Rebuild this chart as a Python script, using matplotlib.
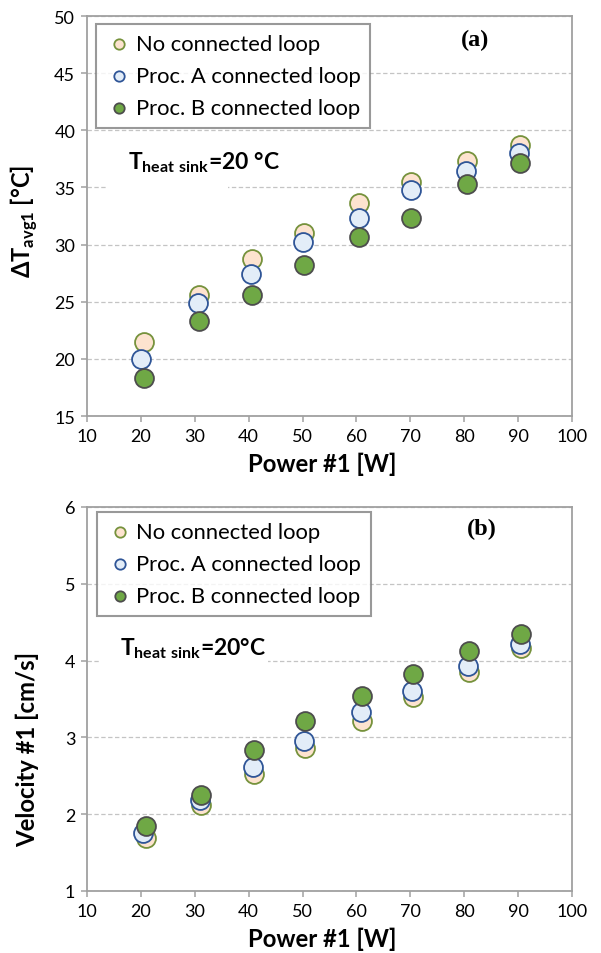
import matplotlib
matplotlib.use("Agg")
import matplotlib.pyplot as plt
from matplotlib.patches import Rectangle

plt.rcParams['font.family'] = ['Lato', 'DejaVu Sans']
plt.rcParams['mathtext.fontset'] = 'custom'
plt.rcParams['mathtext.rm'] = 'Lato'
plt.rcParams['mathtext.bf'] = 'Lato:bold'

# ---------------- data ----------------
series_labels = ["No connected loop", "Proc. A connected loop", "Proc. B connected loop"]

# panel (a): Delta T avg1 [°C] vs Power #1 [W]
a_x_none = [20.5, 30.7, 40.6, 50.2, 60.5, 70.2, 80.5, 90.3]
a_x_procA = [20.0, 30.6, 40.4, 50.1, 60.4, 70.1, 80.3, 90.2]
a_x_procB = [20.5, 30.7, 40.6, 50.2, 60.5, 70.2, 80.5, 90.3]
a_none = [21.5, 25.6, 28.7, 31.0, 33.6, 35.5, 37.3, 38.7]
a_procA = [20.0, 24.9, 27.4, 30.2, 32.3, 34.8, 36.4, 38.0]
a_procB = [18.3, 23.3, 25.6, 28.2, 30.7, 32.3, 35.3, 37.1]

# panel (b): Velocity #1 [cm/s] vs Power #1 [W]
b_x_none = [21.0, 31.1, 41.0, 50.4, 61.0, 70.5, 80.9, 90.6]
b_x_procA = [20.4, 31.0, 40.8, 50.3, 60.9, 70.4, 80.7, 90.4]
b_x_procB = [21.0, 31.1, 41.0, 50.4, 61.0, 70.5, 80.9, 90.6]
b_none = [1.69, 2.12, 2.52, 2.86, 3.22, 3.52, 3.85, 4.16]
b_procA = [1.75, 2.18, 2.61, 2.95, 3.33, 3.60, 3.93, 4.21]
b_procB = [1.85, 2.25, 2.84, 3.21, 3.54, 3.83, 4.13, 4.34]

x_ticks = [10, 20, 30, 40, 50, 60, 70, 80, 90, 100]
a_yticks = [15, 20, 25, 30, 35, 40, 45, 50]
b_yticks = [1, 2, 3, 4, 5, 6]

# ---------------- styles ----------------
face = ['#fde3cf', '#e3edf8', '#6fa845']
edge = ['#76923c', '#2f5597', '#4d4d4d']
spine_c = '#a0a0a0'
grid_c = '#c4c4c4'

W, H = 601, 954
fig = plt.figure(figsize=(W / 100, H / 100), dpi=100)
ax1 = fig.add_axes([87 / W, 1 - 417 / H, 485 / W, 400 / H])
ax2 = fig.add_axes([87 / W, 1 - 892 / H, 485 / W, 384 / H])


def style(ax, yticks):
    ax.set_xlim(10, 100)
    ax.set_ylim(yticks[0], yticks[-1])
    ax.set_xticks(x_ticks)
    ax.set_yticks(yticks)
    for s in ax.spines.values():
        s.set_color(spine_c)
        s.set_linewidth(1.3)
    ax.tick_params(axis='both', direction='out', length=4.5, width=1.1,
                   color=spine_c, labelsize=13, labelcolor='black', pad=4)
    ax.tick_params(top=False, right=False)
    ax.set_axisbelow(True)
    ax.yaxis.grid(True, linestyle=(0, (3.5, 2)), color=grid_c, linewidth=0.9)


style(ax1, a_yticks)
style(ax2, b_yticks)

xs_a = [a_x_none, a_x_procA, a_x_procB]
ys_a = [a_none, a_procA, a_procB]
xs_b = [b_x_none, b_x_procA, b_x_procB]
ys_b = [b_none, b_procA, b_procB]

for ax, xs, ys in [(ax1, xs_a, ys_a), (ax2, xs_b, ys_b)]:
    for i in range(3):
        ax.scatter(xs[i], ys[i], s=185, facecolor=face[i], edgecolor=edge[i],
                   linewidths=1.3, zorder=3 + i, label=series_labels[i])

# legends
for ax, anchor in [(ax1, (0.0186, 0.98)), (ax2, (0.0206, 0.987))]:
    leg = ax.legend(loc='upper left', bbox_to_anchor=anchor, frameon=True,
                    fancybox=False, edgecolor='#808080', fontsize=15.8,
                    markerscale=0.55, handletextpad=0.15, borderpad=0.45,
                    labelspacing=0.55, borderaxespad=0, handlelength=1.2)
    leg.get_frame().set_linewidth(1.5)
    leg.set_zorder(10)

# white boxes behind the annotation text (break the gridline)
ax1.add_patch(Rectangle((0.043, 0.55), 0.247, 0.05, transform=ax1.transAxes,
                        facecolor='white', edgecolor='none', zorder=1))
ax2.add_patch(Rectangle((0.027, 0.57), 0.346, 0.06, transform=ax2.transAxes,
                        facecolor='white', edgecolor='none', zorder=1))

ax1.text(0.0845, 0.635, r'T$_{\mathbf{heat\ sink}}$=20 °C', transform=ax1.transAxes,
         fontsize=16.5, fontweight='bold', ha='left', va='center', zorder=6)
ax2.text(0.068, 0.635, r'T$_{\mathbf{heat\ sink}}$=20°C', transform=ax2.transAxes,
         fontsize=16.5, fontweight='bold', ha='left', va='center', zorder=6)

ax1.text(0.80, 0.9425, '(a)', transform=ax1.transAxes, fontsize=17.5,
         fontweight='bold', family='Liberation Serif', ha='center', va='center')
ax2.text(0.814, 0.943, '(b)', transform=ax2.transAxes, fontsize=17.5,
         fontweight='bold', family='Liberation Serif', ha='center', va='center')

ax1.set_xlabel('Power #1 [W]', fontsize=17.2, fontweight='bold')
ax2.set_xlabel('Power #1 [W]', fontsize=17.2, fontweight='bold')
ax1.xaxis.set_label_coords(0.485, -0.09)
ax2.xaxis.set_label_coords(0.485, -0.094)
ax1.set_ylabel(r'ΔT$_{\mathbf{avg1}}$ [°C]', fontsize=17, fontweight='bold')
ax2.set_ylabel('Velocity #1 [cm/s]', fontsize=17.2, fontweight='bold')
ax1.yaxis.set_label_coords(-0.097, 0.49)
ax2.yaxis.set_label_coords(-0.099, 0.37)

fig.savefig('out.png', dpi=100)
